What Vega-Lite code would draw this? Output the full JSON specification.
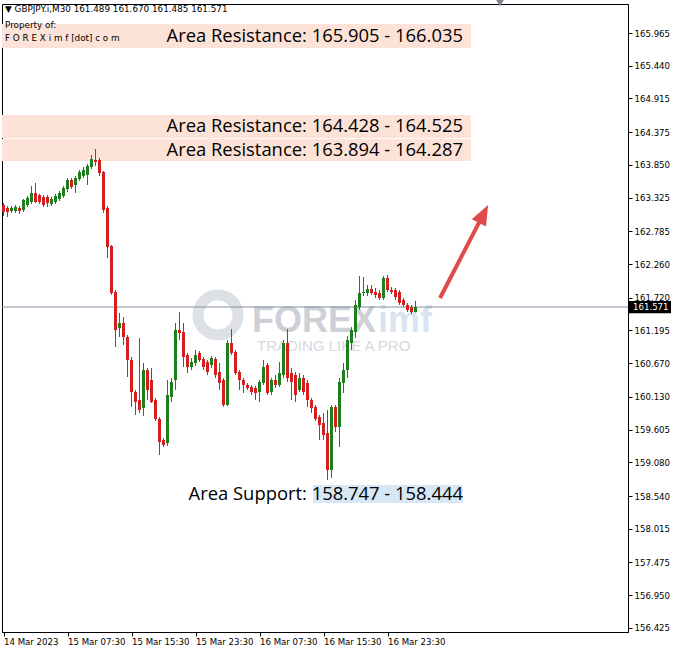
{
  "$schema": "https://vega.github.io/schema/vega-lite/v6.json",
  "width": 626,
  "height": 628,
  "autosize": {"type": "none"},
  "padding": {"left": 2, "top": 4, "right": 47, "bottom": 20},
  "background": "white",
  "config": {
    "view": {"stroke": "black", "strokeWidth": 1},
    "font": "DejaVu Sans",
    "axis": {"labelOverlap": false, "labelSeparation": 0},
    "scale": {"continuousPadding": 0}
  },
  "title": {
    "text": "▼ GBPJPY.i,M30  161.489 161.670 161.485 161.571",
    "subtitle": ["Property of:", "F O R E X i m f [dot] c o m"],
    "anchor": "start",
    "frame": "group",
    "orient": "top",
    "offset": -43.6,
    "dx": 3,
    "font": "DejaVu Sans",
    "fontSize": 8.8,
    "fontWeight": "normal",
    "color": "black",
    "subtitleFont": "DejaVu Sans",
    "subtitleFontSize": 8.8,
    "subtitleColor": "black",
    "subtitlePadding": 7.5,
    "subtitleLineHeight": 13
  },
  "datasets": {
    "candles": [
      {"t": "2023-03-14 23:30", "o": 163.207, "h": 163.239, "l": 163.031, "c": 163.095},
      {"t": "2023-03-15 00:00", "o": 163.159, "h": 163.191, "l": 163.015, "c": 163.095},
      {"t": "2023-03-15 00:30", "o": 163.111, "h": 163.191, "l": 163.079, "c": 163.159},
      {"t": "2023-03-15 01:00", "o": 163.111, "h": 163.207, "l": 163.079, "c": 163.175},
      {"t": "2023-03-15 01:30", "o": 163.159, "h": 163.191, "l": 163.063, "c": 163.111},
      {"t": "2023-03-15 02:00", "o": 163.127, "h": 163.304, "l": 163.095, "c": 163.288},
      {"t": "2023-03-15 02:30", "o": 163.207, "h": 163.352, "l": 163.175, "c": 163.320},
      {"t": "2023-03-15 03:00", "o": 163.255, "h": 163.512, "l": 163.223, "c": 163.400},
      {"t": "2023-03-15 03:30", "o": 163.400, "h": 163.560, "l": 163.239, "c": 163.255},
      {"t": "2023-03-15 04:00", "o": 163.368, "h": 163.384, "l": 163.223, "c": 163.255},
      {"t": "2023-03-15 04:30", "o": 163.336, "h": 163.368, "l": 163.175, "c": 163.207},
      {"t": "2023-03-15 05:00", "o": 163.336, "h": 163.368, "l": 163.175, "c": 163.239},
      {"t": "2023-03-15 05:30", "o": 163.223, "h": 163.336, "l": 163.191, "c": 163.304},
      {"t": "2023-03-15 06:00", "o": 163.255, "h": 163.384, "l": 163.223, "c": 163.352},
      {"t": "2023-03-15 06:30", "o": 163.304, "h": 163.432, "l": 163.271, "c": 163.400},
      {"t": "2023-03-15 07:00", "o": 163.352, "h": 163.512, "l": 163.320, "c": 163.480},
      {"t": "2023-03-15 07:30", "o": 163.464, "h": 163.640, "l": 163.416, "c": 163.608},
      {"t": "2023-03-15 08:00", "o": 163.608, "h": 163.640, "l": 163.464, "c": 163.496},
      {"t": "2023-03-15 08:30", "o": 163.528, "h": 163.672, "l": 163.400, "c": 163.640},
      {"t": "2023-03-15 09:00", "o": 163.624, "h": 163.768, "l": 163.592, "c": 163.736},
      {"t": "2023-03-15 09:30", "o": 163.672, "h": 163.817, "l": 163.640, "c": 163.768},
      {"t": "2023-03-15 10:00", "o": 163.688, "h": 163.865, "l": 163.528, "c": 163.833},
      {"t": "2023-03-15 10:30", "o": 163.817, "h": 164.009, "l": 163.785, "c": 163.945},
      {"t": "2023-03-15 11:00", "o": 163.929, "h": 164.105, "l": 163.833, "c": 163.897},
      {"t": "2023-03-15 11:30", "o": 163.929, "h": 163.961, "l": 163.672, "c": 163.720},
      {"t": "2023-03-15 12:00", "o": 163.736, "h": 163.752, "l": 163.079, "c": 163.127},
      {"t": "2023-03-15 12:30", "o": 163.159, "h": 163.191, "l": 162.357, "c": 162.534},
      {"t": "2023-03-15 13:00", "o": 162.550, "h": 162.566, "l": 161.764, "c": 161.796},
      {"t": "2023-03-15 13:30", "o": 161.812, "h": 161.844, "l": 160.930, "c": 161.203},
      {"t": "2023-03-15 14:00", "o": 161.235, "h": 161.476, "l": 161.091, "c": 161.315},
      {"t": "2023-03-15 14:30", "o": 161.315, "h": 161.411, "l": 160.962, "c": 161.091},
      {"t": "2023-03-15 15:00", "o": 161.091, "h": 161.123, "l": 160.449, "c": 160.722},
      {"t": "2023-03-15 15:30", "o": 160.722, "h": 160.771, "l": 159.968, "c": 160.209},
      {"t": "2023-03-15 16:00", "o": 160.209, "h": 160.241, "l": 159.840, "c": 160.048},
      {"t": "2023-03-15 16:30", "o": 160.081, "h": 161.075, "l": 159.872, "c": 159.920},
      {"t": "2023-03-15 17:00", "o": 159.952, "h": 160.674, "l": 159.824, "c": 160.561},
      {"t": "2023-03-15 17:30", "o": 160.561, "h": 160.593, "l": 160.081, "c": 160.241},
      {"t": "2023-03-15 18:00", "o": 160.401, "h": 160.593, "l": 160.032, "c": 160.048},
      {"t": "2023-03-15 18:30", "o": 160.081, "h": 160.113, "l": 159.743, "c": 159.776},
      {"t": "2023-03-15 19:00", "o": 159.776, "h": 159.808, "l": 159.199, "c": 159.407},
      {"t": "2023-03-15 19:30", "o": 159.439, "h": 159.471, "l": 159.327, "c": 159.359},
      {"t": "2023-03-15 20:00", "o": 159.391, "h": 160.401, "l": 159.343, "c": 160.161},
      {"t": "2023-03-15 20:30", "o": 160.129, "h": 160.433, "l": 160.048, "c": 160.369},
      {"t": "2023-03-15 21:00", "o": 160.401, "h": 161.315, "l": 160.241, "c": 161.203},
      {"t": "2023-03-15 21:30", "o": 161.203, "h": 161.491, "l": 161.043, "c": 161.155},
      {"t": "2023-03-15 22:00", "o": 161.171, "h": 161.315, "l": 160.610, "c": 160.770},
      {"t": "2023-03-15 22:30", "o": 160.802, "h": 160.834, "l": 160.513, "c": 160.610},
      {"t": "2023-03-15 23:00", "o": 160.610, "h": 160.754, "l": 160.561, "c": 160.690},
      {"t": "2023-03-15 23:30", "o": 160.674, "h": 160.882, "l": 160.626, "c": 160.802},
      {"t": "2023-03-16 00:00", "o": 160.834, "h": 160.866, "l": 160.690, "c": 160.722},
      {"t": "2023-03-16 00:30", "o": 160.738, "h": 160.770, "l": 160.561, "c": 160.610},
      {"t": "2023-03-16 01:00", "o": 160.690, "h": 160.722, "l": 160.481, "c": 160.529},
      {"t": "2023-03-16 01:30", "o": 160.642, "h": 160.786, "l": 160.594, "c": 160.754},
      {"t": "2023-03-16 02:00", "o": 160.738, "h": 160.770, "l": 160.433, "c": 160.481},
      {"t": "2023-03-16 02:30", "o": 160.529, "h": 160.674, "l": 160.241, "c": 160.353},
      {"t": "2023-03-16 03:00", "o": 160.401, "h": 160.433, "l": 159.968, "c": 160.000},
      {"t": "2023-03-16 03:30", "o": 160.000, "h": 161.043, "l": 159.984, "c": 160.995},
      {"t": "2023-03-16 04:00", "o": 160.995, "h": 161.219, "l": 160.802, "c": 160.834},
      {"t": "2023-03-16 04:30", "o": 160.850, "h": 160.882, "l": 160.481, "c": 160.513},
      {"t": "2023-03-16 05:00", "o": 160.529, "h": 160.561, "l": 160.241, "c": 160.401},
      {"t": "2023-03-16 05:30", "o": 160.401, "h": 160.433, "l": 160.193, "c": 160.321},
      {"t": "2023-03-16 06:00", "o": 160.321, "h": 160.353, "l": 160.241, "c": 160.273},
      {"t": "2023-03-16 06:30", "o": 160.289, "h": 160.321, "l": 160.161, "c": 160.209},
      {"t": "2023-03-16 07:00", "o": 160.273, "h": 160.305, "l": 160.081, "c": 160.193},
      {"t": "2023-03-16 07:30", "o": 160.209, "h": 160.401, "l": 160.048, "c": 160.369},
      {"t": "2023-03-16 08:00", "o": 160.353, "h": 160.722, "l": 160.321, "c": 160.610},
      {"t": "2023-03-16 08:30", "o": 160.642, "h": 160.674, "l": 160.161, "c": 160.193},
      {"t": "2023-03-16 09:00", "o": 160.209, "h": 160.433, "l": 160.161, "c": 160.401},
      {"t": "2023-03-16 09:30", "o": 160.401, "h": 160.481, "l": 160.273, "c": 160.321},
      {"t": "2023-03-16 10:00", "o": 160.321, "h": 160.690, "l": 160.289, "c": 160.513},
      {"t": "2023-03-16 10:30", "o": 160.481, "h": 161.043, "l": 160.433, "c": 160.995},
      {"t": "2023-03-16 11:00", "o": 160.995, "h": 161.219, "l": 160.369, "c": 160.433},
      {"t": "2023-03-16 11:30", "o": 160.513, "h": 160.593, "l": 160.081, "c": 160.369},
      {"t": "2023-03-16 12:00", "o": 160.481, "h": 160.529, "l": 160.048, "c": 160.161},
      {"t": "2023-03-16 12:30", "o": 160.241, "h": 160.513, "l": 160.209, "c": 160.433},
      {"t": "2023-03-16 13:00", "o": 160.433, "h": 160.481, "l": 160.161, "c": 160.209},
      {"t": "2023-03-16 13:30", "o": 160.353, "h": 160.401, "l": 159.968, "c": 160.081},
      {"t": "2023-03-16 14:00", "o": 160.081, "h": 160.113, "l": 159.872, "c": 159.952},
      {"t": "2023-03-16 14:30", "o": 159.968, "h": 160.000, "l": 159.743, "c": 159.776},
      {"t": "2023-03-16 15:00", "o": 159.808, "h": 159.840, "l": 159.439, "c": 159.680},
      {"t": "2023-03-16 15:30", "o": 159.712, "h": 159.872, "l": 159.439, "c": 159.519},
      {"t": "2023-03-16 16:00", "o": 159.551, "h": 159.920, "l": 158.798, "c": 158.958},
      {"t": "2023-03-16 16:30", "o": 158.958, "h": 160.000, "l": 158.830, "c": 159.968},
      {"t": "2023-03-16 17:00", "o": 159.968, "h": 160.000, "l": 159.567, "c": 159.648},
      {"t": "2023-03-16 17:30", "o": 159.648, "h": 160.433, "l": 159.327, "c": 160.369},
      {"t": "2023-03-16 18:00", "o": 160.353, "h": 160.674, "l": 160.193, "c": 160.561},
      {"t": "2023-03-16 18:30", "o": 160.561, "h": 161.107, "l": 160.433, "c": 161.043},
      {"t": "2023-03-16 19:00", "o": 160.995, "h": 161.251, "l": 160.882, "c": 161.203},
      {"t": "2023-03-16 19:30", "o": 161.171, "h": 161.684, "l": 161.075, "c": 161.604},
      {"t": "2023-03-16 20:00", "o": 161.571, "h": 162.069, "l": 161.524, "c": 161.796},
      {"t": "2023-03-16 20:30", "o": 161.796, "h": 162.053, "l": 161.748, "c": 161.812},
      {"t": "2023-03-16 21:00", "o": 161.796, "h": 161.924, "l": 161.748, "c": 161.860},
      {"t": "2023-03-16 21:30", "o": 161.860, "h": 161.924, "l": 161.764, "c": 161.796},
      {"t": "2023-03-16 22:00", "o": 161.812, "h": 161.876, "l": 161.716, "c": 161.764},
      {"t": "2023-03-16 22:30", "o": 161.796, "h": 161.844, "l": 161.684, "c": 161.716},
      {"t": "2023-03-16 23:00", "o": 161.716, "h": 162.069, "l": 161.684, "c": 162.037},
      {"t": "2023-03-16 23:30", "o": 162.037, "h": 162.085, "l": 161.812, "c": 161.844},
      {"t": "2023-03-17 00:00", "o": 161.844, "h": 161.892, "l": 161.780, "c": 161.812},
      {"t": "2023-03-17 00:30", "o": 161.844, "h": 161.876, "l": 161.684, "c": 161.732},
      {"t": "2023-03-17 01:00", "o": 161.812, "h": 161.844, "l": 161.604, "c": 161.636},
      {"t": "2023-03-17 01:30", "o": 161.684, "h": 161.716, "l": 161.571, "c": 161.604},
      {"t": "2023-03-17 02:00", "o": 161.604, "h": 161.636, "l": 161.491, "c": 161.524},
      {"t": "2023-03-17 02:30", "o": 161.571, "h": 161.604, "l": 161.459, "c": 161.491},
      {"t": "2023-03-17 03:00", "o": 161.489, "h": 161.670, "l": 161.485, "c": 161.571}
    ],
    "zones": [
      {"label": "Area Resistance: 165.905 - 166.035", "kind": "resistance", "start": "2023-03-14 23:18", "end": "2023-03-17 09:56", "labelEnd": "2023-03-17 08:56", "top": 166.110, "bottom": 165.725},
      {"label": "Area Resistance: 164.428 - 164.525", "kind": "resistance", "start": "2023-03-14 23:18", "end": "2023-03-17 09:56", "labelEnd": "2023-03-17 08:56", "top": 164.650, "bottom": 164.282},
      {"label": "Area Resistance: 163.894 - 164.287", "kind": "resistance", "start": "2023-03-14 23:18", "end": "2023-03-17 09:56", "labelEnd": "2023-03-17 08:56", "top": 164.266, "bottom": 163.913},
      {"label": "Area Support: 158.747 - 158.444", "kind": "support", "start": "2023-03-16 14:11", "end": "2023-03-17 08:56", "labelEnd": "2023-03-17 08:56", "top": 158.718, "bottom": 158.430}
    ]
  },
  "layer": [
    {
      "data": {"name": "zones"},
      "mark": {"type": "rect"},
      "encoding": {
        "x": {
          "field": "start", "type": "temporal",
          "scale": {
            "domain": [
              {"year": 2023, "month": 3, "date": 14, "hours": 23, "minutes": 18, "seconds": 45},
              {"year": 2023, "month": 3, "date": 18, "hours": 5, "minutes": 33, "seconds": 45}
            ],
            "nice": false,
            "padding": 0
          },
          "axis": {
            "title": null,
            "grid": false,
            "tickCount": 40,
            "values": [
              {"year": 2023, "month": 3, "date": 14, "hours": 23, "minutes": 30},
              {"year": 2023, "month": 3, "date": 15, "hours": 7, "minutes": 30},
              {"year": 2023, "month": 3, "date": 15, "hours": 15, "minutes": 30},
              {"year": 2023, "month": 3, "date": 15, "hours": 23, "minutes": 30},
              {"year": 2023, "month": 3, "date": 16, "hours": 7, "minutes": 30},
              {"year": 2023, "month": 3, "date": 16, "hours": 15, "minutes": 30},
              {"year": 2023, "month": 3, "date": 16, "hours": 23, "minutes": 30}
            ],
            "labelExpr": "datum.index == 0 ? '14 Mar 2023' : timeFormat(datum.value, '%d %b %H:%M')",
            "labelAlign": "left",
            "labelBaseline": "top",
            "labelPadding": 1,
            "labelFont": "DejaVu Sans",
            "labelFontSize": 8.6,
            "labelColor": "black",
            "labelOverlap": false,
            "labelFlush": false,
            "tickColor": "black",
            "tickSize": 4,
            "domainColor": "black"
          }
        },
        "x2": {"field": "end"},
        "y": {
          "field": "top", "type": "quantitative",
          "scale": {"domain": [156.3606, 166.43], "nice": false, "zero": false, "padding": 0},
          "axis": {
            "orient": "right",
            "title": null,
            "grid": false,
            "tickCount": 40,
            "values": [165.965, 165.44, 164.915, 164.375, 163.85, 163.325, 162.785, 162.26, 161.72, 161.195, 160.67, 160.13, 159.605, 159.08, 158.54, 158.015, 157.475, 156.95, 156.425],
            "format": ".3f",
            "labelFont": "DejaVu Sans",
            "labelFontSize": 8.6,
            "labelColor": "black",
            "labelPadding": 2,
            "labelOverlap": false,
            "labelFlush": false,
            "tickColor": "black",
            "tickSize": 4,
            "domainColor": "black"
          }
        },
        "y2": {"field": "bottom"},
        "fill": {
          "condition": {"test": "datum.kind === 'support'", "value": "#d7e7f6"},
          "value": "#fde3d7"
        }
      }
    },
    {
      "data": {"values": [{"t": "2023-03-16 02:19", "p": 161.444}]},
      "mark": {"type": "point", "shape": "circle", "filled": false, "stroke": "#d0d3d9", "strokeWidth": 11, "size": 1600},
      "encoding": {
        "x": {"field": "t", "type": "temporal"},
        "y": {"field": "p", "type": "quantitative"}
      }
    },
    {
      "data": {"values": [{"t": "2023-03-16 06:34", "p": 161.171, "word": "FOREX"}]},
      "mark": {"type": "text", "align": "left", "baseline": "alphabetic", "font": "Liberation Sans", "fontWeight": "bold", "fontSize": 36, "fill": "#cdd0d7"},
      "encoding": {
        "x": {"field": "t", "type": "temporal"},
        "y": {"field": "p", "type": "quantitative"},
        "text": {"field": "word"}
      }
    },
    {
      "data": {"values": [{"t": "2023-03-16 22:19", "p": 161.171, "word": "imf"}]},
      "mark": {"type": "text", "align": "left", "baseline": "alphabetic", "font": "Liberation Sans", "fontWeight": "bold", "fontSize": 36, "fill": "#d8e5f1"},
      "encoding": {
        "x": {"field": "t", "type": "temporal"},
        "y": {"field": "p", "type": "quantitative"},
        "text": {"field": "word"}
      }
    },
    {
      "data": {"values": [{"t": "2023-03-16 07:11", "p": 160.870, "word": "TRADING LIKE A PRO"}]},
      "mark": {"type": "text", "align": "left", "baseline": "alphabetic", "font": "Liberation Sans", "fontSize": 15, "letterSpacing": 1.6, "fill": "#d6d9de"},
      "encoding": {
        "x": {"field": "t", "type": "temporal"},
        "y": {"field": "p", "type": "quantitative"},
        "text": {"field": "word"}
      }
    },
    {
      "data": {"values": [{"price": 161.571}]},
      "mark": {"type": "rule", "stroke": "#8592a3", "strokeWidth": 1},
      "encoding": {
        "y": {"field": "price", "type": "quantitative"}
      }
    },
    {
      "data": {"name": "candles"},
      "mark": {"type": "rule", "strokeWidth": 1},
      "encoding": {
        "x": {"field": "t", "type": "temporal"},
        "y": {"field": "l", "type": "quantitative"},
        "y2": {"field": "h"},
        "stroke": {
          "condition": {"test": "datum.c >= datum.o", "value": "#1b801b"},
          "value": "#d51f1f"
        }
      }
    },
    {
      "data": {"name": "candles"},
      "mark": {"type": "bar", "width": 3},
      "encoding": {
        "x": {"field": "t", "type": "temporal"},
        "y": {"field": "o", "type": "quantitative"},
        "y2": {"field": "c"},
        "fill": {
          "condition": {"test": "datum.c >= datum.o", "value": "#1b801b"},
          "value": "#d51f1f"
        }
      }
    },
    {
      "data": {"name": "zones"},
      "transform": [{"calculate": "(datum.top + datum.bottom) / 2", "as": "mid"}],
      "mark": {"type": "text", "align": "right", "baseline": "middle", "font": "Open Sans", "fontSize": 18.4, "fill": "black"},
      "encoding": {
        "x": {"field": "labelEnd", "type": "temporal"},
        "y": {"field": "mid", "type": "quantitative"},
        "text": {"field": "label"}
      }
    },
    {
      "data": {"values": [{"t": "2023-03-17 06:04", "p": 161.716}, {"t": "2023-03-17 11:30", "p": 163.064}]},
      "mark": {"type": "line", "stroke": "#e04a4a", "strokeWidth": 4},
      "encoding": {
        "x": {"field": "t", "type": "temporal"},
        "y": {"field": "p", "type": "quantitative"}
      }
    },
    {
      "data": {"values": [{"t": "2023-03-17 11:30", "p": 163.064}]},
      "mark": {"type": "point", "shape": "M0,-1L0.8,1L-0.8,1Z", "filled": true, "fill": "#e04a4a", "opacity": 1, "size": 400, "angle": 27.3, "strokeWidth": 0},
      "encoding": {
        "x": {"field": "t", "type": "temporal"},
        "y": {"field": "p", "type": "quantitative"}
      }
    },
    {
      "data": {"values": [{"t": "2023-03-17 13:34", "price": 166.43}]},
      "mark": {"type": "point", "shape": "triangle-down", "filled": true, "fill": "#7d8590", "opacity": 1, "size": 70, "yOffset": -1, "strokeWidth": 0},
      "encoding": {
        "x": {"field": "t", "type": "temporal"},
        "y": {"field": "price", "type": "quantitative"}
      }
    },
    {
      "data": {"values": [{"price": 161.571}]},
      "mark": {"type": "point", "shape": "M-1,-0.29H1V0.29H-1Z", "filled": true, "fill": "black", "opacity": 1, "size": 1764, "x": "width", "xOffset": 22, "strokeWidth": 0},
      "encoding": {
        "y": {"field": "price", "type": "quantitative"}
      }
    },
    {
      "data": {"values": [{"price": 161.571}]},
      "mark": {"type": "text", "align": "left", "baseline": "middle", "font": "DejaVu Sans", "fontSize": 8.6, "fill": "white", "x": "width", "xOffset": 5},
      "encoding": {
        "y": {"field": "price", "type": "quantitative"},
        "text": {"field": "price", "type": "quantitative", "format": ".3f"}
      }
    }
  ]
}
